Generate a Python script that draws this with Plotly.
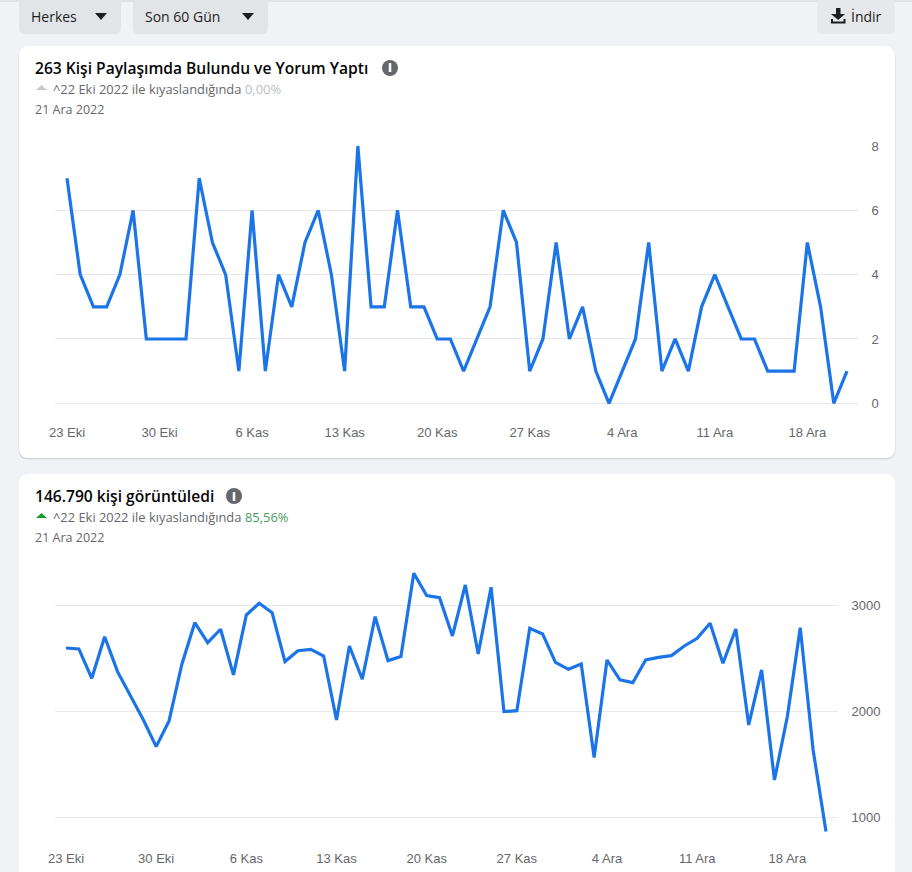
import pandas as pd
import plotly.graph_objects as go

W, H = 912, 872

# --- data ---
start_date = "2022-10-23"
day_count = 60
shared_values = [7, 4, 3, 3, 4, 6, 2, 2, 2, 2, 7, 5, 4, 1, 6, 1, 4, 3, 5, 6,
                 4, 1, 8, 3, 3, 6, 3, 3, 2, 2, 1, 2, 3, 6, 5, 1, 2, 5, 2, 3,
                 1, 0, 1, 2, 5, 1, 2, 1, 3, 4, 3, 2, 2, 1, 1, 1, 5, 3, 0, 1]
view_values = [2597, 2588, 2311, 2704, 2374, 2150, 1920, 1667, 1909, 2447,
               2836, 2648, 2774, 2343, 2909, 3019, 2931, 2469, 2572, 2585,
               2522, 1918, 2616, 2302, 2893, 2478, 2516, 3302, 3091, 3072,
               2711, 3192, 2541, 3170, 1997, 2006, 2783, 2730, 2462, 2396,
               2447, 1563, 2484, 2296, 2270, 2484, 2509, 2525, 2616, 2689,
               2830, 2453, 2777, 1871, 2390, 1352, 1950, 2789, 1635, 865]
tick_dates = ["2022-10-23", "2022-10-30", "2022-11-06", "2022-11-13", "2022-11-20",
              "2022-11-27", "2022-12-04", "2022-12-11", "2022-12-18"]
tick_labels = ["23 Eki", "30 Eki", "6 Kas", "13 Kas", "20 Kas",
               "27 Kas", "4 Ara", "11 Ara", "18 Ara"]
shared_ticks = [0, 2, 4, 6, 8]
view_ticks = [1000, 2000, 3000]

dates = pd.date_range(start_date, periods=day_count, freq="D")

BG = "#f0f2f5"
BTN = "#e2e4e8"
GRID = "#e6e8eb"
LINE = "#1b74e8"
AXTXT = "#65676b"
DARK = "#1c1e21"
UI = "Open Sans"


def px(x):
    return x / W


def py(y):
    return 1 - y / H


def path(cmds):
    s = ""
    for c in cmds:
        if isinstance(c, str):
            s += c
        else:
            s += f"{px(c[0]):.5f},{py(c[1]):.5f} "
    return s.strip()


def shape(cmds, fill, layer="below"):
    return dict(type="path", xref="paper", yref="paper", path=path(cmds),
                fillcolor=fill, line=dict(width=0), layer=layer)


def rrect(x0, y0, x1, y1, r, fill):
    return shape(["M", (x0 + r, y0), "L", (x1 - r, y0), "Q", (x1, y0), (x1, y0 + r),
                  "L", (x1, y1 - r), "Q", (x1, y1), (x1 - r, y1),
                  "L", (x0 + r, y1), "Q", (x0, y1), (x0, y1 - r),
                  "L", (x0, y0 + r), "Q", (x0, y0), (x0 + r, y0), "Z"], fill)


def tri(x0, x1, ytop, ybot, fill, up=False):
    xm = (x0 + x1) / 2
    if up:
        return shape(["M", (x0, ybot), "L", (x1, ybot), "L", (xm, ytop), "Z"], fill)
    return shape(["M", (x0, ytop), "L", (x1, ytop), "L", (xm, ybot), "Z"], fill)


def txt(x, y, s, size, color, weight=400, family=UI, anchor="left"):
    return dict(x=px(x), y=py(y), xref="paper", yref="paper", text=s, showarrow=False,
                xanchor=anchor, yanchor="middle", align="left",
                font=dict(size=size, color=color, family=family, weight=weight),
                borderpad=0, borderwidth=0)


shapes = [
    shape(["M", (0, 0), "L", (W, 0), "L", (W, 2), "L", (0, 2), "Z"], "#dfe1e5"),
    rrect(19, -12, 121, 34, 6, BTN),
    rrect(133, -12, 268, 34, 6, BTN),
    rrect(817, -12, 895, 34, 6, "#e6e8ec"),
    tri(95, 107, 13, 20, DARK),
    tri(242, 254, 13, 20, DARK),
    # download icon
    shape(["M", (836, 8), "L", (840.5, 8), "L", (840.5, 14), "L", (845, 14), "L", (838.2, 20),
           "L", (831, 14), "L", (836, 14), "Z"], DARK),
    shape(["M", (831, 19), "L", (833, 19), "L", (833, 21.5), "L", (843.5, 21.5), "L", (843.5, 19),
           "L", (845.5, 19), "L", (845.5, 23.5), "L", (831, 23.5), "Z"], DARK),
    # cards
    rrect(18.5, 46.5, 895.5, 459.5, 10, "#d6d8dc"),
    rrect(19, 46, 895, 458, 10, "white"),
    rrect(19, 474, 895, 900, 10, "white"),
    # comparison arrows
    tri(36, 47, 85, 90, "#c6c9cd", up=True),
    tri(36, 47, 513, 518, "#169c2c", up=True),
    # info icons
    dict(type="circle", xref="paper", yref="paper", x0=px(382), x1=px(398), y0=py(60), y1=py(76),
         fillcolor="#65676b", line=dict(width=0), layer="below"),
    dict(type="circle", xref="paper", yref="paper", x0=px(226), x1=px(242), y0=py(488), y1=py(504),
         fillcolor="#65676b", line=dict(width=0), layer="below"),
]

annotations = [
    txt(31, 16, "Herkes", 14, DARK, 500),
    txt(145, 16, "Son 60 Gün", 14, DARK, 500),
    txt(851, 16, "İndir", 14, DARK, 500),
    txt(35, 68, "263 Kişi Paylaşımda Bulundu ve Yorum Yaptı", 15.6, "#050505", 600),
    txt(53, 89, "^22 Eki 2022 ile kıyaslandığında", 12.9, AXTXT, 400),
    txt(245, 89, "0,00%", 12.9, "#bcc0c4", 400),
    txt(35, 110, "21 Ara 2022", 12.5, AXTXT, 400),
    txt(390, 68, "i", 12, "white", 800, anchor="center"),
    txt(35, 496, "146.790 kişi görüntüledi", 15.6, "#050505", 600),
    txt(53, 517, "^22 Eki 2022 ile kıyaslandığında", 12.9, AXTXT, 400),
    txt(245, 517, "85,56%", 12.9, "#4b9b5c", 400),
    txt(35, 537, "21 Ara 2022", 12.5, AXTXT, 400),
    txt(234, 496, "i", 12, "white", 800, anchor="center"),
]


def x_axis(left, right, x_first, x_last, anchor):
    per_day = (x_last - x_first) / (day_count - 1)
    lo = dates[0] - pd.Timedelta(days=(x_first - left) / per_day)
    hi = dates[-1] + pd.Timedelta(days=(right - x_last) / per_day)
    return dict(domain=[px(left), px(right)], range=[lo, hi], type="date", automargin=False,
                tickmode="array", tickvals=tick_dates, ticktext=tick_labels,
                showgrid=False, zeroline=False, showline=False, ticks="outside", ticklen=2,
                tickcolor="rgba(0,0,0,0)", tickangle=0, anchor=anchor,
                tickfont=dict(family="Liberation Sans", size=13, color=AXTXT))


def y_axis(top, bottom, v_top, y_vtop, v_bot, y_vbot, ticks, anchor):
    per_px = (v_top - v_bot) / (y_vbot - y_vtop)
    return dict(domain=[py(bottom), py(top)], automargin=False,
                range=[v_bot - (bottom - y_vbot) * per_px, v_top + (y_vtop - top) * per_px],
                side="right", tickmode="array", tickvals=ticks, ticktext=[str(t) for t in ticks],
                showgrid=True, gridcolor=GRID, gridwidth=1, zeroline=False, showline=False,
                ticks="outside", ticklen=10, tickcolor="rgba(0,0,0,0)", anchor=anchor,
                tickfont=dict(family="Liberation Sans", size=13, color=AXTXT))


line_style = dict(color=LINE, width=3.2)
fig = go.Figure()
fig.add_trace(go.Scatter(x=dates, y=shared_values, mode="lines", line=line_style,
                         xaxis="x", yaxis="y", hoverinfo="x+y", name="Paylaşım"))
fig.add_trace(go.Scatter(x=dates, y=view_values, mode="lines", line=line_style,
                         xaxis="x2", yaxis="y2", hoverinfo="x+y", name="Görüntüleme"))

fig.update_layout(
    width=W, height=H, autosize=False,
    margin=dict(l=0, r=0, t=0, b=0, pad=0),
    paper_bgcolor=BG, plot_bgcolor="rgba(0,0,0,0)", showlegend=False,
    shapes=shapes, annotations=annotations,
    xaxis=x_axis(55, 858, 67, 847, "y"),
    yaxis=y_axis(145, 418, 8, 146, 0, 403.3, shared_ticks, "x"),
    xaxis2=x_axis(55, 838, 66, 826, "y2"),
    yaxis2=y_axis(560, 844.5, 3000, 605.3, 1000, 817.3, view_ticks, "x2"),
)

fig.write_html("out.html", config=dict(displayModeBar=False),
               post_script="document.body.style.margin='0';document.documentElement.style.overflow='hidden';")
